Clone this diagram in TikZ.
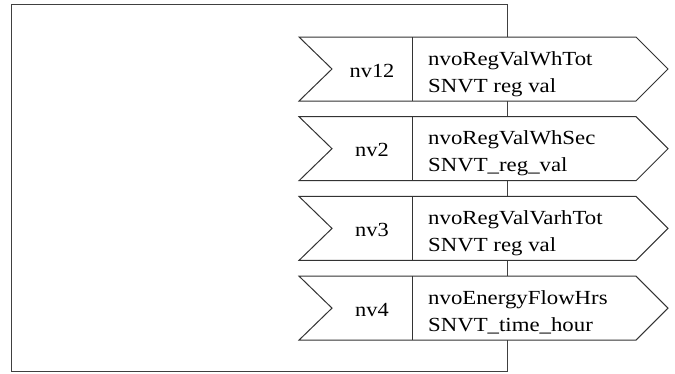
\documentclass[tikz,border=0pt]{standalone}
\usepackage{fontspec}
\setmainfont{Liberation Serif}
\begin{document}
\begin{tikzpicture}[x=1pt,y=-1pt,
  frame/.style={draw=black!75,line width=1.3pt},
  arrowshape/.style={draw=black!80,fill=white,line width=1pt,line join=miter},
  divider/.style={draw=black!80,line width=1pt},
  lbl/.style={inner sep=0pt,font=\fontsize{20}{24}\selectfont},
]
\useasboundingbox (0,0) rectangle (675,373);
\draw[frame] (11.5,4.5) rectangle (507.5,371.5);
\foreach \k/\nv/\na/\nb in {0/nv12/nvoRegValWhTot/SNVT reg val,
                             1/nv2/nvoRegValWhSec/SNVT\_reg\_val,
                             2/nv3/nvoRegValVarhTot/SNVT reg val,
                             3/nv4/nvoEnergyFlowHrs/SNVT\_time\_hour}{
  \pgfmathsetmacro{\t}{37+79.7*\k}
  \draw[arrowshape] (299,\t) -- (636,\t) -- (668,\t+32) -- (636,\t+64)
     -- (299,\t+64) -- (332,\t+32) -- cycle;
  \draw[divider] (412,\t) -- (412,\t+64);
  \node[lbl,anchor=base] (nv\k) at (372,\t+40) {\scalebox{1.12}[1]{\nv}};
  \node[lbl,anchor=base west] (na\k) at (428,\t+28) {\scalebox{1.14}[1]{\na}};
  \node[lbl,anchor=base west] (nb\k) at (428,\t+55) {\scalebox{1.14}[1]{\nb}};
}
\end{tikzpicture}
\end{document}
